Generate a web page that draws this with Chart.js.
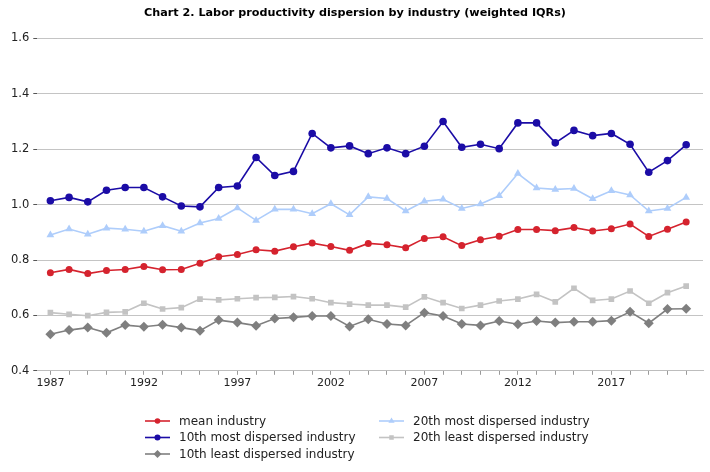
<!DOCTYPE html>
<html lang="en">
<head>
    <meta charset="UTF-8">
    <title>Chart 2. Labor productivity dispersion</title>
    <style>
        body { margin: 0; background: #fff; }
        .wrap { width: 710px; height: 472px; }
    </style>
</head>
<body>
<div class="wrap"><canvas id="myChart" width="710" height="472"></canvas></div>

<script src="https://cdn.jsdelivr.net/npm/chart.js"></script>
<script>
    const years = [];
    for (let y = 1987; y <= 2021; y++) years.push(y);

    const meanIndustry = [0.754, 0.766, 0.751, 0.762, 0.766, 0.777, 0.765, 0.766, 0.788, 0.812, 0.820, 0.837, 0.832, 0.848, 0.861, 0.849, 0.835,
        0.860, 0.855, 0.844, 0.878, 0.884, 0.852, 0.873, 0.886, 0.910, 0.910, 0.906, 0.917, 0.905, 0.913, 0.930, 0.885, 0.911, 0.937];
    const mostDispersed10 = [1.014, 1.026, 1.010, 1.052, 1.062, 1.062, 1.028, 0.995, 0.992, 1.062, 1.067, 1.170, 1.105, 1.120, 1.257, 1.205, 1.212,
        1.184, 1.205, 1.184, 1.211, 1.300, 1.207, 1.218, 1.202, 1.295, 1.295, 1.223, 1.268, 1.249, 1.257, 1.218, 1.117, 1.159, 1.216];
    const leastDispersed10 = [0.532, 0.547, 0.556, 0.537, 0.565, 0.559, 0.566, 0.556, 0.545, 0.583, 0.574, 0.563, 0.589, 0.593, 0.598, 0.598, 0.560,
        0.586, 0.569, 0.564, 0.610, 0.598, 0.569, 0.564, 0.580, 0.568, 0.580, 0.574, 0.577, 0.577, 0.581, 0.613, 0.572, 0.623, 0.624];
    const mostDispersed20 = [0.890, 0.912, 0.893, 0.915, 0.911, 0.904, 0.924, 0.904, 0.934, 0.950, 0.988, 0.943, 0.983, 0.983, 0.967, 1.003, 0.963,
        1.028, 1.022, 0.977, 1.012, 1.019, 0.986, 1.002, 1.032, 1.112, 1.060, 1.055, 1.058, 1.021, 1.050, 1.035, 0.977, 0.986, 1.026];
    const leastDispersed20 = [0.610, 0.604, 0.599, 0.611, 0.613, 0.644, 0.623, 0.628, 0.659, 0.656, 0.660, 0.664, 0.665, 0.668, 0.660, 0.646, 0.641,
        0.637, 0.637, 0.630, 0.667, 0.646, 0.625, 0.637, 0.652, 0.659, 0.676, 0.649, 0.698, 0.654, 0.659, 0.688, 0.644, 0.682, 0.706];

    const yTicks = [0.4, 0.6, 0.8, 1.0, 1.2, 1.4, 1.6];
    const xLabelYears = [1987, 1992, 1997, 2002, 2007, 2012, 2017];

    function series(label, values, color, style, radius) {
        return {
            label: label,
            data: values.map((v, i) => ({ x: years[i], y: v })),
            borderColor: color,
            backgroundColor: color,
            borderWidth: 1.6,
            pointStyle: style,
            pointRadius: radius,
            pointHoverRadius: radius,
            pointBorderWidth: 0,
            tension: 0
        };
    }

    const datasets = [
        series('20th least dispersed industry', leastDispersed20, '#c3c3c3', 'rect', 4),
        series('10th least dispersed industry', leastDispersed10, '#7f7f7f', 'rectRot', 5),
        series('20th most dispersed industry', mostDispersed20, '#aecdfb', 'triangle', 4.5),
        series('mean industry', meanIndustry, '#d5232e', 'circle', 3.5),
        series('10th most dispersed industry', mostDispersed10, '#1b0ca6', 'circle', 3.8)
    ];

    // legend in two columns like the original
    const legendLayout = [
        { label: 'mean industry', col: 0, row: 0 },
        { label: '10th most dispersed industry', col: 0, row: 1 },
        { label: '10th least dispersed industry', col: 0, row: 2 },
        { label: '20th most dispersed industry', col: 1, row: 0 },
        { label: '20th least dispersed industry', col: 1, row: 1 }
    ];

    const twoColumnLegend = {
        id: 'twoColumnLegend',
        afterDraw(chart) {
            const ctx = chart.ctx;
            const colX = [145, 379];
            const rowY = [421, 437.5, 454];
            ctx.save();
            ctx.font = '12px "DejaVu Sans", sans-serif';
            ctx.textBaseline = 'middle';
            legendLayout.forEach(item => {
                const ds = chart.data.datasets.find(d => d.label === item.label);
                const x = colX[item.col], y = rowY[item.row];
                ctx.strokeStyle = ds.borderColor;
                ctx.lineWidth = 1.6;
                ctx.beginPath();
                ctx.moveTo(x, y);
                ctx.lineTo(x + 25, y);
                ctx.stroke();
                ctx.fillStyle = ds.backgroundColor;
                Chart.helpers.drawPoint(ctx, { pointStyle: ds.pointStyle, radius: ds.pointRadius * 0.8, rotation: 0, borderWidth: 0 }, x + 12.5, y);
                ctx.fillStyle = '#222';
                ctx.fillText(item.label, x + 34, y + 0.5);
            });
            ctx.restore();
        }
    };

    new Chart(document.getElementById('myChart'), {
        type: 'line',
        data: { datasets: datasets },
        options: {
            responsive: false,
            animation: false,
            layout: { padding: { left: 7, right: 7, top: 0, bottom: 80 } },
            plugins: {
                legend: { display: false },
                tooltip: { enabled: false },
                title: {
                    display: true,
                    text: 'Chart 2. Labor productivity dispersion by industry (weighted IQRs)',
                    color: '#000',
                    font: { family: '"DejaVu Sans", sans-serif', size: 11.2, weight: 'bold' },
                    padding: { top: 6, bottom: 19 }
                }
            },
            scales: {
                x: {
                    type: 'linear',
                    min: 1986.3,
                    max: 2021.9,
                    afterBuildTicks: scale => { scale.ticks = years.map(v => ({ value: v })); },
                    grid: { drawOnChartArea: false, drawTicks: true, tickLength: 4, color: '#9a9a9a' },
                    border: { display: true, color: '#bdbdbd' },
                    ticks: {
                        autoSkip: false,
                        maxRotation: 0,
                        padding: 2,
                        color: '#222',
                        font: { family: '"DejaVu Sans", sans-serif', size: 11 },
                        callback: v => xLabelYears.includes(v) ? String(v) : ''
                    }
                },
                y: {
                    min: 0.4,
                    max: 1.6,
                    afterBuildTicks: scale => { scale.ticks = yTicks.map(v => ({ value: v })); },
                    grid: { color: '#c4c4c4', lineWidth: 1, tickLength: 4, tickColor: '#555' },
                    border: { display: false },
                    ticks: {
                        padding: 4,
                        color: '#222',
                        font: { family: '"DejaVu Sans", sans-serif', size: 11.5 },
                        callback: v => v.toFixed(1)
                    }
                }
            }
        },
        plugins: [twoColumnLegend]
    });
</script>
</body>
</html>
